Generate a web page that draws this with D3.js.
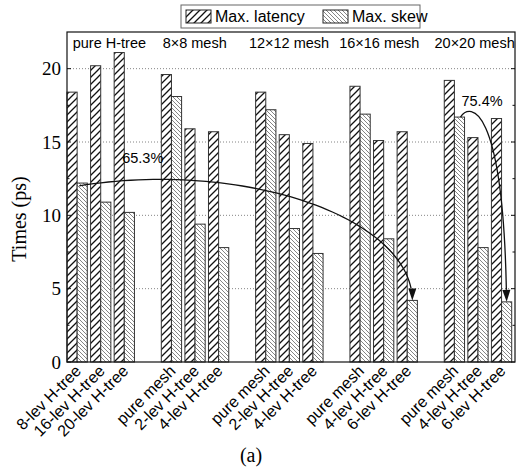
<!DOCTYPE html>
<html><head><meta charset="utf-8">
<script src="https://cdn.jsdelivr.net/npm/d3@7"></script>
<style>body{margin:0;background:#fff}svg{display:block}</style>
</head><body>
<svg id="c" width="519" height="471"></svg>
<script>
// ---- data ----
const groups = ["pure H-tree", "8×8 mesh", "12×12 mesh", "16×16 mesh", "20×20 mesh"];
const configs = [
  ["8-lev H-tree", "16-lev H-tree", "20-lev H-tree"],
  ["pure mesh", "2-lev H-tree", "4-lev H-tree"],
  ["pure mesh", "2-lev H-tree", "4-lev H-tree"],
  ["pure mesh", "4-lev H-tree", "6-lev H-tree"],
  ["pure mesh", "4-lev H-tree", "6-lev H-tree"]
];
const maxLatency = [
  [18.4, 20.2, 21.1],
  [19.6, 15.9, 15.7],
  [18.4, 15.5, 14.9],
  [18.8, 15.1, 15.7],
  [19.2, 15.3, 16.6]
];
const maxSkew = [
  [12.2, 10.9, 10.2],
  [18.1, 9.4, 7.8],
  [17.2, 9.1, 7.4],
  [16.9, 8.4, 4.2],
  [16.7, 7.8, 4.1]
];
const yTicks = [0, 5, 10, 15, 20];
const seriesNames = ["Max. latency", "Max. skew"];
const reductions = [
  {label: "65.3%", from: [0, 0], to: [3, 2]},
  {label: "75.4%", from: [4, 0], to: [4, 2]}
];

// ---- layout ----
const svg = d3.select("#c");
const L = 67, R = 515, T = 32, B = 362;
const SANS = "Liberation Sans, Arial, sans-serif";
const SERIF = "Liberation Serif, Times New Roman, serif";

const slots = [];
const rows = [];
groups.forEach((g, gi) => {
  configs[gi].forEach((c, ci) => {
    const key = g + "|" + c;
    slots.push(key);
    rows.push({key, group: gi, idx: ci, label: c, lat: maxLatency[gi][ci], skew: maxSkew[gi][ci]});
  });
  if (gi < groups.length - 1) slots.push("gap" + gi);
});

const x = d3.scaleBand().domain(slots).range([L, R]).padding(0);
const y = d3.scaleLinear().domain([0, 22.5]).range([B, T]);
const bw = x.bandwidth() * 0.43;

// patterns
const defs = svg.append("defs");
const p1 = defs.append("pattern").attr("id", "hLat").attr("patternUnits", "userSpaceOnUse")
  .attr("width", 7).attr("height", 7);
p1.append("rect").attr("width", 7).attr("height", 7).attr("fill", "#fff");
p1.append("path").attr("d", "M-1,1 l2,-2 M0,7 l7,-7 M6,8 l2,-2")
  .attr("stroke", "#111").attr("stroke-width", 1.3);
const p2 = defs.append("pattern").attr("id", "hSkew").attr("patternUnits", "userSpaceOnUse")
  .attr("width", 4).attr("height", 4);
p2.append("rect").attr("width", 4).attr("height", 4).attr("fill", "#fff");
p2.append("path").attr("d", "M0,0 l4,4 M-1,3 l2,2 M3,-1 l2,2")
  .attr("stroke", "#666").attr("stroke-width", 0.8);

// grid
svg.append("g").selectAll("line").data(yTicks.filter(d => d > 0)).join("line")
  .attr("x1", L).attr("x2", R).attr("y1", d => y(d)).attr("y2", d => y(d))
  .attr("stroke", "#777").attr("stroke-width", 0.9).attr("stroke-dasharray", "1,2");

// bars
const bars = svg.append("g");
bars.selectAll("rect.lat").data(rows).join("rect").attr("class", "lat")
  .attr("x", d => x(d.key)).attr("width", bw)
  .attr("y", d => y(d.lat)).attr("height", d => y(0) - y(d.lat))
  .attr("fill", "url(#hLat)").attr("stroke", "#333").attr("stroke-width", 1);
bars.selectAll("rect.skew").data(rows).join("rect").attr("class", "skew")
  .attr("x", d => x(d.key) + bw).attr("width", bw)
  .attr("y", d => y(d.skew)).attr("height", d => y(0) - y(d.skew))
  .attr("fill", "url(#hSkew)").attr("stroke", "#333").attr("stroke-width", 1);

// frame
svg.append("rect").attr("x", L).attr("y", T).attr("width", R - L).attr("height", B - T)
  .attr("fill", "none").attr("stroke", "#111").attr("stroke-width", 1.2);

// ticks (inward), minor on both sides
const minor = d3.range(0, 22.5, 2.5);
const tk = svg.append("g").attr("stroke", "#111").attr("stroke-width", 1);
minor.forEach(v => {
  const len = (v % 5 === 0) ? 4 : 2.5;
  tk.append("line").attr("x1", L).attr("x2", L + len).attr("y1", y(v)).attr("y2", y(v));
  tk.append("line").attr("x1", R).attr("x2", R - len).attr("y1", y(v)).attr("y2", y(v));
});

// y tick labels
svg.append("g").selectAll("text").data(yTicks).join("text")
  .attr("x", L - 6).attr("y", d => y(d)).attr("dy", "0.35em")
  .attr("text-anchor", "end").attr("font-family", SERIF)
  .attr("font-size", 19).text(d => d);

// y axis title
svg.append("text").attr("transform", `translate(26,${(T + B) / 2 + 22}) rotate(-90)`)
  .attr("text-anchor", "middle").attr("font-family", SERIF)
  .attr("font-size", 20).text("Times (ps)");

// x labels
svg.append("g").selectAll("text").data(rows).join("text")
  .attr("transform", d => `translate(${x(d.key) + bw + 5},${B + 10}) rotate(-45)`)
  .attr("text-anchor", "end").attr("font-family", SANS)
  .attr("font-size", 16).text(d => d.label);

// group labels (centred over each group)
const groupShift = [7, -2, -2, -6, -5];
groups.forEach((g, gi) => {
  const a = x(g + "|" + configs[gi][0]);
  const b = x(g + "|" + configs[gi][2]) + x.bandwidth();
  svg.append("text").attr("x", (a + b) / 2 + groupShift[gi]).attr("y", 48)
    .attr("text-anchor", "middle")
    .attr("font-family", SANS).attr("font-size", 14.5).text(g);
});

// caption
svg.append("text").attr("x", 251).attr("y", 462).attr("text-anchor", "middle")
  .attr("font-family", SERIF).attr("font-size", 20).text("(a)");

// legend
const lg = svg.append("g");
lg.append("rect").attr("x", 181).attr("y", 5).attr("width", 239).attr("height", 23)
  .attr("fill", "#fff").attr("stroke", "#666").attr("stroke-width", 1);
const legX = [186, 323];
seriesNames.forEach((s, i) => {
  lg.append("rect").attr("x", legX[i]).attr("y", 10).attr("width", 25).attr("height", 13)
    .attr("fill", i === 0 ? "url(#hLat)" : "url(#hSkew)").attr("stroke", "#222");
  lg.append("text").attr("x", legX[i] + 29).attr("y", 22)
    .attr("font-family", SANS).attr("font-size", 16).text(s);
});

// reduction arrows
function skewTop(gi, ci) {
  const key = groups[gi] + "|" + configs[gi][ci];
  return [x(key) + bw * 1.5, y(maxSkew[gi][ci])];
}
const ann = svg.append("g");
const hl = 12, hw = 4;
function head(P3, ux, uy) {
  const E = [P3[0] - ux * hl, P3[1] - uy * hl];
  ann.append("path").attr("d",
    `M${P3[0]},${P3[1]} L${E[0] - uy * hw},${E[1] + ux * hw} L${E[0] + uy * hw},${E[1] - ux * hw} Z`)
    .attr("fill", "#111");
  return E;
}
{
  // elliptical arc: peak over the 8×8 group start, vertical drop to the end bar
  const s = skewTop(...reductions[0].from), e = skewTop(...reductions[0].to);
  const cx = x(groups[1] + "|" + configs[1][0]) - 1, cy = e[1];
  const a = e[0] - cx, b = cy - y(12.45);
  const sx = s[0] - 3;
  const phi0 = Math.acos((sx - cx) / a);
  const phi1 = Math.asin(hl / b);
  const pts = d3.range(0, 61).map(i => {
    const ph = phi0 + (phi1 - phi0) * i / 60;
    return [cx + a * Math.cos(ph), cy - b * Math.sin(ph)];
  });
  ann.append("path").attr("d", d3.line()(pts)).attr("fill", "none")
    .attr("stroke", "#111").attr("stroke-width", 1.3);
  head(e, 0, 1);
  ann.append("text").attr("x", s[0] + 40).attr("y", 163)
    .attr("font-family", SANS).attr("font-size", 14.5).text(reductions[0].label);
}
{
  const s = skewTop(...reductions[1].from), e = skewTop(...reductions[1].to);
  const P0 = [s[0] + 1, s[1]];
  const C1 = [P0[0] + 10, P0[1] - 15], C2 = [e[0] - 4, P0[1] - 13];
  const dx = e[0] - C2[0], dy = e[1] - C2[1], n = Math.hypot(dx, dy);
  const E = head(e, dx / n, dy / n);
  const p = d3.path();
  p.moveTo(...P0); p.bezierCurveTo(...C1, ...C2, ...E);
  ann.append("path").attr("d", p.toString()).attr("fill", "none")
    .attr("stroke", "#111").attr("stroke-width", 1.3);
  ann.append("text").attr("x", s[0] + 2).attr("y", 106)
    .attr("font-family", SANS).attr("font-size", 14.5).text(reductions[1].label);
}
</script>
</body></html>
